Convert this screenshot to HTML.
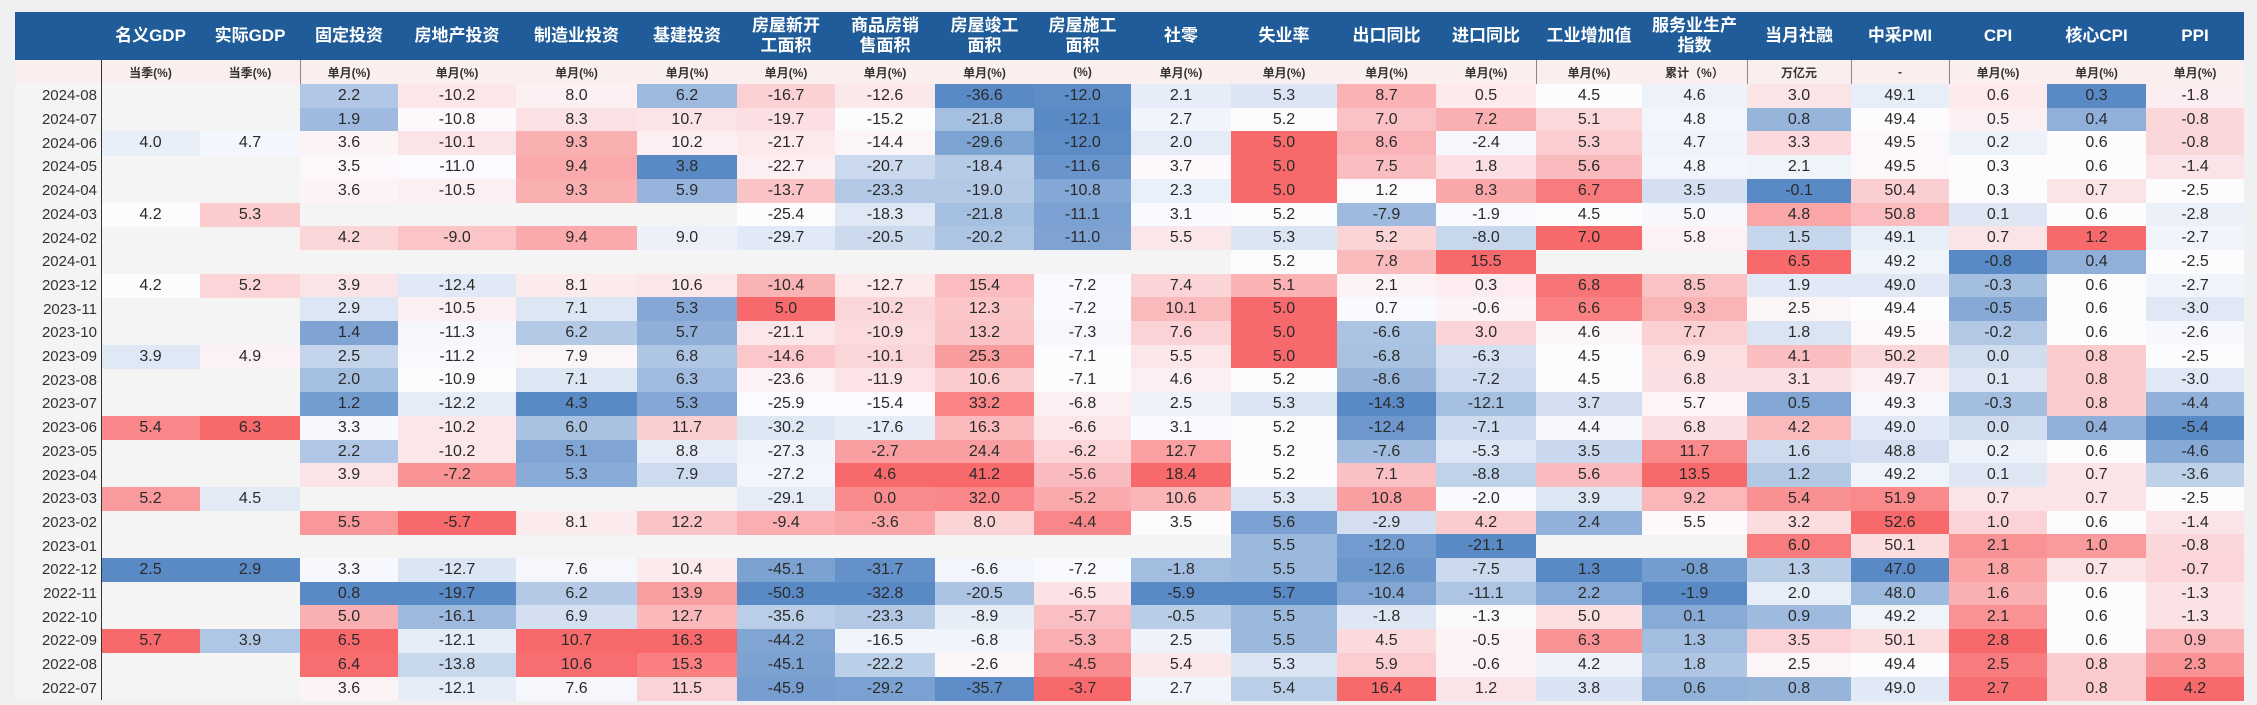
<!DOCTYPE html>
<html><head><meta charset="utf-8">
<style>
body{margin:0;width:2257px;height:705px;background:#eef0f2;overflow:hidden;font-family:"Liberation Sans","Noto Sans CJK SC",sans-serif;}
#tbl{position:absolute;left:15px;top:12px;width:2229px;height:688px;background:#f4f4f4;}
.c{position:absolute;display:flex;align-items:center;justify-content:center;text-align:center;box-sizing:border-box;color:#2a2a2a;}
.h{color:#fff;font-weight:bold;font-size:17px;line-height:20px;background:#1f5c99;}
.u{font-size:12px;font-weight:bold;color:#333;}
.d{font-size:16px;}
.dt{font-size:15px;color:#333;}
.vl{position:absolute;width:1px;background:#555;}
</style></head>
<body>
<div id="tbl"></div>
<script>
const dates=["2024-08","2024-07","2024-06","2024-05","2024-04","2024-03","2024-02","2024-01","2023-12","2023-11","2023-10","2023-09","2023-08","2023-07","2023-06","2023-05","2023-04","2023-03","2023-02","2023-01","2022-12","2022-11","2022-10","2022-09","2022-08","2022-07"];
const headers=["名义GDP","实际GDP","固定投资","房地产投资","制造业投资","基建投资","房屋新开<br>工面积","商品房销<br>售面积","房屋竣工<br>面积","房屋施工<br>面积","社零","失业率","出口同比","进口同比","工业增加值","服务业生产<br>指数","当月社融","中采PMI","CPI","核心CPI","PPI"];
const units=["当季(%)","当季(%)","单月(%)","单月(%)","单月(%)","单月(%)","单月(%)","单月(%)","单月(%)","(%)","单月(%)","单月(%)","单月(%)","单月(%)","单月(%)","累计（%）","万亿元","-","单月(%)","单月(%)","单月(%)"];
const N=null;
const gdpNominal=[N,N,4.0,N,N,4.2,N,N,4.2,N,N,3.9,N,N,5.4,N,N,5.2,N,N,2.5,N,N,5.7,N,N];
const gdpReal=[N,N,4.7,N,N,5.3,N,N,5.2,N,N,4.9,N,N,6.3,N,N,4.5,N,N,2.9,N,N,3.9,N,N];
const fai=[2.2,1.9,3.6,3.5,3.6,N,4.2,N,3.9,2.9,1.4,2.5,2.0,1.2,3.3,2.2,3.9,N,5.5,N,3.3,0.8,5.0,6.5,6.4,3.6];
const realEstate=[-10.2,-10.8,-10.1,-11.0,-10.5,N,-9.0,N,-12.4,-10.5,-11.3,-11.2,-10.9,-12.2,-10.2,-10.2,-7.2,N,-5.7,N,-12.7,-19.7,-16.1,-12.1,-13.8,-12.1];
const manuf=[8.0,8.3,9.3,9.4,9.3,N,9.4,N,8.1,7.1,6.2,7.9,7.1,4.3,6.0,5.1,5.3,N,8.1,N,7.6,6.2,6.9,10.7,10.6,7.6];
const infra=[6.2,10.7,10.2,3.8,5.9,N,9.0,N,10.6,5.3,5.7,6.8,6.3,5.3,11.7,8.8,7.9,N,12.2,N,10.4,13.9,12.7,16.3,15.3,11.5];
const newStarts=[-16.7,-19.7,-21.7,-22.7,-13.7,-25.4,-29.7,N,-10.4,5.0,-21.1,-14.6,-23.6,-25.9,-30.2,-27.3,-27.2,-29.1,-9.4,N,-45.1,-50.3,-35.6,-44.2,-45.1,-45.9];
const sales=[-12.6,-15.2,-14.4,-20.7,-23.3,-18.3,-20.5,N,-12.7,-10.2,-10.9,-10.1,-11.9,-15.4,-17.6,-2.7,4.6,0.0,-3.6,N,-31.7,-32.8,-23.3,-16.5,-22.2,-29.2];
const completions=[-36.6,-21.8,-29.6,-18.4,-19.0,-21.8,-20.2,N,15.4,12.3,13.2,25.3,10.6,33.2,16.3,24.4,41.2,32.0,8.0,N,-6.6,-20.5,-8.9,-6.8,-2.6,-35.7];
const underConst=[-12.0,-12.1,-12.0,-11.6,-10.8,-11.1,-11.0,N,-7.2,-7.2,-7.3,-7.1,-7.1,-6.8,-6.6,-6.2,-5.6,-5.2,-4.4,N,-7.2,-6.5,-5.7,-5.3,-4.5,-3.7];
const retail=[2.1,2.7,2.0,3.7,2.3,3.1,5.5,N,7.4,10.1,7.6,5.5,4.6,2.5,3.1,12.7,18.4,10.6,3.5,N,-1.8,-5.9,-0.5,2.5,5.4,2.7];
const unemp=[5.3,5.2,5.0,5.0,5.0,5.2,5.3,5.2,5.1,5.0,5.0,5.0,5.2,5.3,5.2,5.2,5.2,5.3,5.6,5.5,5.5,5.7,5.5,5.5,5.3,5.4];
const exportsYoy=[8.7,7.0,8.6,7.5,1.2,-7.9,5.2,7.8,2.1,0.7,-6.6,-6.8,-8.6,-14.3,-12.4,-7.6,7.1,10.8,-2.9,-12.0,-12.6,-10.4,-1.8,4.5,5.9,16.4];
const importsYoy=[0.5,7.2,-2.4,1.8,8.3,-1.9,-8.0,15.5,0.3,-0.6,3.0,-6.3,-7.2,-12.1,-7.1,-5.3,-8.8,-2.0,4.2,-21.1,-7.5,-11.1,-1.3,-0.5,-0.6,1.2];
const industry=[4.5,5.1,5.3,5.6,6.7,4.5,7.0,N,6.8,6.6,4.6,4.5,4.5,3.7,4.4,3.5,5.6,3.9,2.4,N,1.3,2.2,5.0,6.3,4.2,3.8];
const services=[4.6,4.8,4.7,4.8,3.5,5.0,5.8,N,8.5,9.3,7.7,6.9,6.8,5.7,6.8,11.7,13.5,9.2,5.5,N,-0.8,-1.9,0.1,1.3,1.8,0.6];
const tsf=[3.0,0.8,3.3,2.1,-0.1,4.8,1.5,6.5,1.9,2.5,1.8,4.1,3.1,0.5,4.2,1.6,1.2,5.4,3.2,6.0,1.3,2.0,0.9,3.5,2.5,0.8];
const pmi=[49.1,49.4,49.5,49.5,50.4,50.8,49.1,49.2,49.0,49.4,49.5,50.2,49.7,49.3,49.0,48.8,49.2,51.9,52.6,50.1,47.0,48.0,49.2,50.1,49.4,49.0];
const cpi=[0.6,0.5,0.2,0.3,0.3,0.1,0.7,-0.8,-0.3,-0.5,-0.2,0.0,0.1,-0.3,0.0,0.2,0.1,0.7,1.0,2.1,1.8,1.6,2.1,2.8,2.5,2.7];
const coreCpi=[0.3,0.4,0.6,0.6,0.7,0.6,1.2,0.4,0.6,0.6,0.6,0.8,0.8,0.8,0.4,0.6,0.7,0.7,0.6,1.0,0.7,0.6,0.6,0.6,0.8,0.8];
const ppi=[-1.8,-0.8,-0.8,-1.4,-2.5,-2.8,-2.7,-2.5,-2.7,-3.0,-2.6,-2.5,-3.0,-4.4,-5.4,-4.6,-3.6,-2.5,-1.4,-0.8,-0.7,-1.3,-1.3,0.9,2.3,4.2];
const series=[gdpNominal,gdpReal,fai,realEstate,manuf,infra,newStarts,sales,completions,underConst,retail,unemp,exportsYoy,importsYoy,industry,services,tsf,pmi,cpi,coreCpi,ppi];
const reversed=[false,false,false,false,false,false,false,false,false,false,false,true,false,false,false,false,false,false,false,false,false];
const colNames=["nominal-gdp","real-gdp","fixed-investment","real-estate-investment","manufacturing-investment","infrastructure-investment","new-starts-area","sales-area","completions-area","under-construction-area","retail-sales","unemployment","exports-yoy","imports-yoy","industrial-value-added","services-index","social-financing","pmi","cpi","core-cpi","ppi"];

const edges=[0,86,185,285,383,501,622,722,820,920,1019,1116,1216,1322,1421,1521,1627,1732,1836,1934,2032,2131,2229];
const HEAD_H=48, UNIT_H=24, ROW_H=23.7;
const tbl=document.getElementById('tbl');
function rowY(i){return HEAD_H+UNIT_H+i*ROW_H;}
function mix(a,b,t){return a.map((v,k)=>Math.round(v+(b[k]-v)*t));}
const RED=[248,105,107],WHITE=[252,252,255],BLUE=[90,138,198];
function colorScale(arr,rev){
  const v=arr.filter(x=>x!==null).slice().sort((a,b)=>a-b);
  const mn=v[0],mx=v[v.length-1];
  const m=v.length%2?v[(v.length-1)/2]:(v[v.length/2-1]+v[v.length/2])/2;
  return function(x){
    let c;
    if(x>=m){c=mx===m?WHITE:mix(WHITE,rev?BLUE:RED,(x-m)/(mx-m));}
    else{c=mn===m?WHITE:mix(WHITE,rev?RED:BLUE,(m-x)/(m-mn));}
    return 'rgb('+c.join(',')+')';
  };
}
// header background
const hb=document.createElement('div');
hb.className='c h';hb.style.cssText='left:0;top:0;width:2229px;height:'+HEAD_H+'px;';


tbl.appendChild(hb);
const ub=document.createElement('div');
ub.className='c';ub.style.cssText='left:0;top:'+HEAD_H+'px;width:2229px;height:'+UNIT_H+'px;background:#fbeeee;';


tbl.appendChild(ub);
headers.forEach((h,j)=>{
  const d=document.createElement('div');
  d.className='c h';
  d.style.cssText='left:'+edges[j+1]+'px;top:0;width:'+(edges[j+2]-edges[j+1])+'px;height:'+HEAD_H+'px;background:transparent;';
  d.innerHTML=h;
  
  
  tbl.appendChild(d);
  const u=document.createElement('div');
  u.className='c u';
  u.style.cssText='left:'+edges[j+1]+'px;top:'+HEAD_H+'px;width:'+(edges[j+2]-edges[j+1])+'px;height:'+UNIT_H+'px;';
  u.textContent=units[j];
  
  
  tbl.appendChild(u);
});
dates.forEach((dt,i)=>{
  const d=document.createElement('div');
  d.className='c dt';
  d.style.cssText='left:0;top:'+rowY(i)+'px;width:'+(edges[1]-4)+'px;height:'+ROW_H+'px;justify-content:flex-end;';
  d.textContent=dt;
  
  
  tbl.appendChild(d);
});
series.forEach((arr,j)=>{
  const sc=colorScale(arr,reversed[j]);
  arr.forEach((v,i)=>{
    if(v===null)return;
    const d=document.createElement('div');
    d.className='c d';
    d.style.cssText='left:'+edges[j+1]+'px;top:'+rowY(i)+'px;width:'+(edges[j+2]-edges[j+1])+'px;height:'+(ROW_H+0.5)+'px;background:'+sc(v)+';';
    d.textContent=v.toFixed(1);
    
    
    tbl.appendChild(d);
  });
});
[86,285,1521,1732,1836,1934].forEach(x=>{
  const l=document.createElement('div');
  l.className='vl';
  l.style.cssText='left:'+x+'px;top:'+(x===86||x===285?HEAD_H:HEAD_H)+'px;height:'+(x===86?640:(x===285?24:24))+'px;background:'+(x===86?'#333':'#888')+';';
  
  
  tbl.appendChild(l);
});
</script>
</body></html>
